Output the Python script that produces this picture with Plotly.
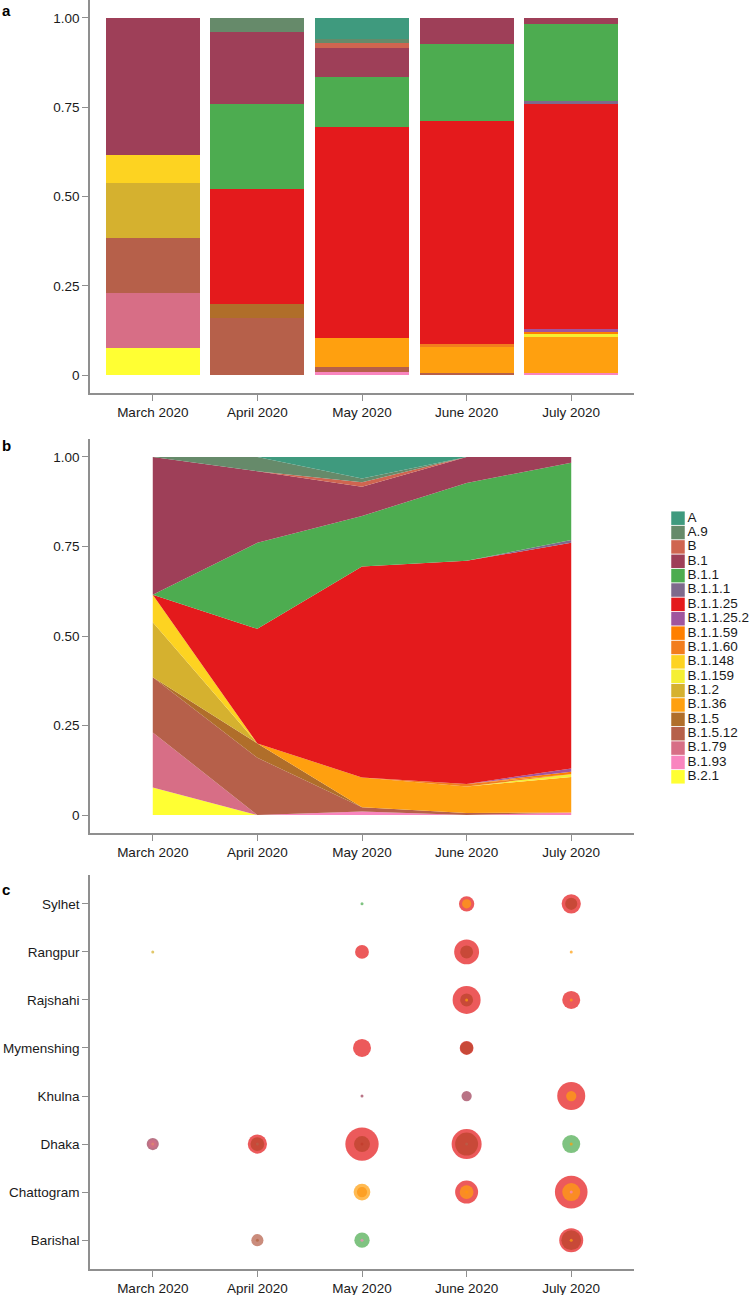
import math
import plotly.graph_objects as go

# ---------------- data ----------------
months = ["March 2020", "April 2020", "May 2020", "June 2020", "July 2020"]

lineages = ["A", "A.9", "B", "B.1", "B.1.1", "B.1.1.1", "B.1.1.25", "B.1.1.25.2",
            "B.1.1.59", "B.1.1.60", "B.1.148", "B.1.159", "B.1.2", "B.1.36",
            "B.1.5", "B.1.5.12", "B.1.79", "B.1.93", "B.2.1"]

lineage_colors = ["#3f9a7e", "#668a6a", "#cf6550", "#9e3f58", "#4dac50", "#7e6a8c",
                  "#e41a1c", "#a0559e", "#ff7f00", "#f27d1e", "#fdd321", "#f5ef33",
                  "#d5b12f", "#ffa00f", "#b06e2a", "#b6604a", "#d76e86", "#f985bf",
                  "#ffff33"]

# proportions per month, aligned with `lineages`
prop_march = [0, 0, 0, 5/13, 0, 0, 0, 0, 0, 0, 1/13, 0, 2/13, 0, 0, 2/13, 2/13, 0, 1/13]
prop_april = [0, 0.04, 0, 0.20, 0.24, 0, 0.32, 0, 0, 0, 0, 0, 0, 0, 0.04, 0.16, 0, 0, 0]
prop_may   = [0.060, 0.011, 0.012, 0.082, 0.141, 0, 0.589, 0, 0, 0, 0, 0, 0, 0.083, 0, 0.012, 0, 0.010, 0]
prop_june  = [0, 0, 0, 0.073, 0.217, 0, 0.623, 0, 0, 0.007, 0, 0, 0, 0.074, 0, 0.006, 0, 0, 0]
prop_july  = [0, 0, 0, 0.016, 0.216, 0.008, 0.630, 0.009, 0.007, 0, 0, 0.008, 0, 0.099, 0, 0, 0, 0.007, 0]

divisions = ["Barishal", "Chattogram", "Dhaka", "Khulna", "Mymenshing", "Rajshahi", "Rangpur", "Sylhet"]

bub_region = ["Sylhet", "Sylhet", "Sylhet", "Sylhet", "Sylhet",
              "Rangpur", "Rangpur", "Rangpur", "Rangpur", "Rangpur",
              "Rajshahi", "Rajshahi", "Rajshahi", "Rajshahi", "Rajshahi",
              "Mymenshing", "Mymenshing", "Mymenshing",
              "Khulna", "Khulna", "Khulna", "Khulna",
              "Dhaka", "Dhaka", "Dhaka", "Dhaka", "Dhaka", "Dhaka", "Dhaka", "Dhaka",
              "Dhaka", "Dhaka", "Dhaka", "Dhaka", "Dhaka", "Dhaka",
              "Chattogram", "Chattogram", "Chattogram", "Chattogram", "Chattogram",
              "Chattogram", "Chattogram", "Chattogram",
              "Barishal", "Barishal", "Barishal", "Barishal", "Barishal", "Barishal", "Barishal"]
bub_month = ["May 2020", "June 2020", "June 2020", "July 2020", "July 2020",
             "March 2020", "May 2020", "June 2020", "June 2020", "July 2020",
             "June 2020", "June 2020", "June 2020", "July 2020", "July 2020",
             "May 2020", "June 2020", "June 2020",
             "May 2020", "June 2020", "July 2020", "July 2020",
             "March 2020", "March 2020", "March 2020", "April 2020", "April 2020", "April 2020",
             "May 2020", "May 2020", "May 2020", "June 2020", "June 2020", "June 2020",
             "July 2020", "July 2020",
             "May 2020", "May 2020", "June 2020", "June 2020", "June 2020",
             "July 2020", "July 2020", "July 2020",
             "April 2020", "April 2020", "May 2020", "May 2020", "July 2020", "July 2020", "July 2020"]
bub_lineage = ["B.1.1", "B.1.1.25", "B.1.36", "B.1.1", "B.1.1.25",
               "B.1.2", "B.1.1.25", "B.1.1", "B.1.1.25", "B.1.36",
               "B.1.1", "B.1.1.25", "B.1.36", "B.1.1.25", "B.1.36",
               "B.1.1.25", "B.1.1", "B.1.1.25",
               "B.1", "B.1", "B.1.1.25", "B.1.36",
               "B.1", "B.1.79", "B.1.148", "B.1.1", "B.1.1.25", "B.1.5.12",
               "B.1", "B.1.1", "B.1.1.25", "B.1.1", "B.1.1.25", "B.1.5.12",
               "B.1.1", "B.1.36",
               "B.1.1.60", "B.1.36", "B.1.1.25", "B.1.36", "B.1.1.59",
               "B.1.1.25", "B.1.36", "B.1.93",
               "B.1.5", "B.1.5.12", "B.1.1", "B.1.93", "B.1.1", "B.1.1.25", "B.1.36"]
bub_count = [1, 12, 5, 8, 18,
             1, 10, 9, 29, 1,
             9, 36, 1, 16, 1,
             16, 9, 10,
             1, 6, 36, 6,
             8, 4, 1, 10, 18, 1,
             1, 13, 50, 25, 41, 1,
             16, 1,
             6, 14, 25, 10, 1,
             48, 16, 1,
             1, 8, 12, 1, 19, 27, 1]

tick_vals = [0, 0.25, 0.5, 0.75, 1.0]
tick_text = ["0", "0.25", "0.50", "0.75", "1.00"]

# ---------------- layout geometry ----------------
W, H = 751, 1295
FONT = "Liberation Sans, Arial, Helvetica, sans-serif"
AX_COLOR = "#8f8f8f"
TXT = "#1a1a1a"
TS = 13.5


def px_x(a, b):
    return [a / W, b / W]


def px_y(top, bottom):
    return [1 - bottom / H, 1 - top / H]


fig = go.Figure()
props_by_month = [prop_march, prop_april, prop_may, prop_june, prop_july]

# ---------------- panel a: stacked bars ----------------
for i in reversed(range(len(lineages))):
    vals = [p[i] for p in props_by_month]
    fig.add_trace(go.Bar(
        x=months, y=vals, name=lineages[i], marker=dict(color=lineage_colors[i], line=dict(width=0)),
        width=0.9, showlegend=False, xaxis="x", yaxis="y",
    ))

# ---------------- panel b: stacked area ----------------
for i in reversed(range(len(lineages))):
    vals = [p[i] for p in props_by_month]
    fig.add_trace(go.Scatter(
        x=months, y=vals, name=lineages[i], mode="lines", stackgroup="one",
        line=dict(width=0, color=lineage_colors[i]), fillcolor=lineage_colors[i],
        showlegend=False, xaxis="x2", yaxis="y2",
    ))

# ---------------- panel c: bubbles ----------------
for i, lin in enumerate(lineages):
    idx = [k for k, l in enumerate(bub_lineage) if l == lin]
    if not idx:
        continue
    fig.add_trace(go.Scatter(
        x=[bub_month[k] for k in idx], y=[bub_region[k] for k in idx], mode="markers",
        marker=dict(color=lineage_colors[i], opacity=0.72, line=dict(width=0),
                    size=[3 + 5 * (math.sqrt(bub_count[k]) - 1) for k in idx]),
        name=lin, showlegend=False, xaxis="x3", yaxis="y3", cliponaxis=False,
    ))

# ---------------- custom legend ----------------
fig.add_trace(go.Scatter(
    x=[0] * len(lineages), y=list(range(len(lineages))), mode="markers+text",
    marker=dict(symbol="square", size=13.5, color=lineage_colors, line=dict(width=0)),
    text=lineages, textposition="middle right", cliponaxis=False,
    textfont=dict(family=FONT, size=13.5, color=TXT),
    showlegend=False, xaxis="x4", yaxis="y4", hoverinfo="skip",
))

xcat = dict(type="category", categoryorder="array", categoryarray=months, range=[-0.6, 4.6],
            showline=True, linecolor=AX_COLOR, linewidth=1.5, ticks="outside", ticklen=6,
            tickcolor=AX_COLOR, tickwidth=1.2, showgrid=False, zeroline=False,
            tickfont=dict(family=FONT, size=TS, color=TXT), automargin=False, fixedrange=True)
yprop = dict(range=[-0.05, 1.05], tickvals=tick_vals, ticktext=tick_text, showline=True,
             linecolor=AX_COLOR, linewidth=1.5, ticks="outside", ticklen=6, tickcolor=AX_COLOR,
             tickwidth=1.2, showgrid=False, zeroline=False,
             tickfont=dict(family=FONT, size=TS, color=TXT), automargin=False, fixedrange=True)

fig.update_layout(
    width=W, height=H, autosize=False,
    margin=dict(l=0, r=0, t=0, b=0),
    paper_bgcolor="white", plot_bgcolor="white",
    barmode="stack", showlegend=False,
    font=dict(family=FONT, size=TS, color=TXT),
    xaxis=dict(xcat, domain=px_x(90, 634), anchor="y"),
    yaxis=dict(yprop, domain=px_y(0, 393), anchor="x"),
    xaxis2=dict(xcat, domain=px_x(90, 634), anchor="y2"),
    yaxis2=dict(yprop, domain=px_y(439, 833), anchor="x2"),
    xaxis3=dict(xcat, domain=px_x(90, 634), anchor="y3"),
    yaxis3=dict(type="category", categoryorder="array", categoryarray=divisions,
                range=[-0.6, 7.6], domain=px_y(875, 1269), anchor="x3",
                showline=True, linecolor=AX_COLOR, linewidth=1.5, ticks="outside", ticklen=6,
                tickcolor=AX_COLOR, tickwidth=1.2, showgrid=False, zeroline=False,
                tickfont=dict(family=FONT, size=TS, color=TXT), automargin=False, fixedrange=True),
    xaxis4=dict(domain=px_x(660, 751), range=[-18, 73], visible=False, anchor="y4", fixedrange=True),
    yaxis4=dict(domain=px_y(511, 784), range=[18.5, -0.5], visible=False, anchor="x4", fixedrange=True),
    annotations=[
        dict(text="<b>a</b>", x=0, y=1, xref="paper", yref="paper", xanchor="left",
             yanchor="top", showarrow=False, font=dict(family=FONT, size=15, color="black")),
        dict(text="<b>b</b>", x=0, y=1 - 445 / H, xref="paper", yref="paper", xanchor="left",
             yanchor="middle", showarrow=False, font=dict(family=FONT, size=15, color="black")),
        dict(text="<b>c</b>", x=0, y=1 - 889 / H, xref="paper", yref="paper", xanchor="left",
             yanchor="middle", showarrow=False, font=dict(family=FONT, size=15, color="black")),
    ],
)

fig.write_html(
    "out.html",
    config={"displayModeBar": False},
    post_script="document.body.style.margin='0';document.body.style.overflow='hidden';",
)
